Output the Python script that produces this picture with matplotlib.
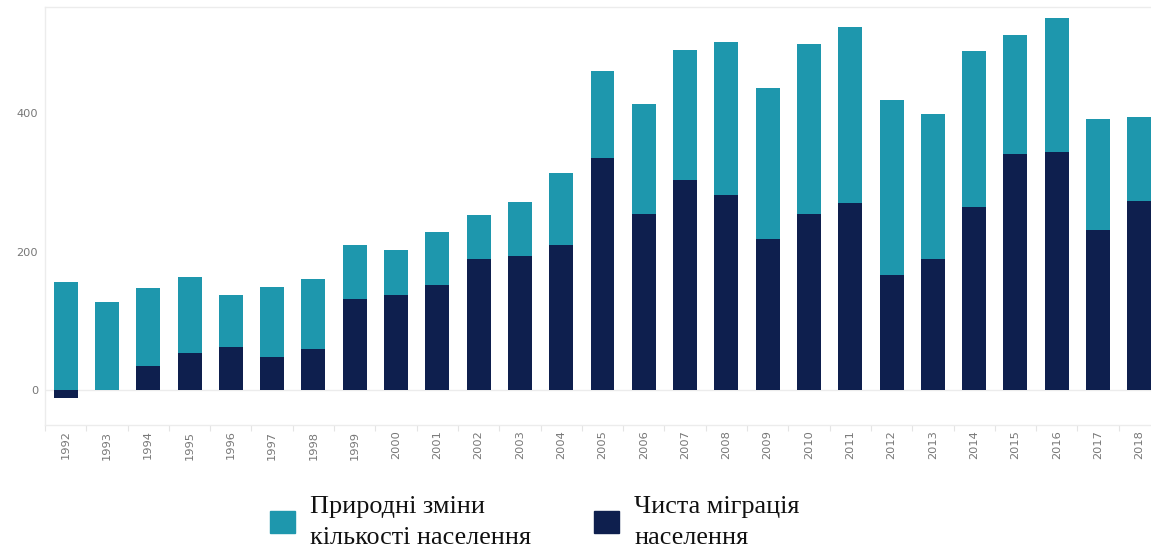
import numpy as np
import matplotlib
matplotlib.use("Agg")
import matplotlib.pyplot as plt
from matplotlib.patches import Patch

years = [str(y) for y in range(1992, 2019)]
# чиста міграція (нижній сегмент)
migration = [-11, 0, 35, 54, 62, 48, 60, 132, 138, 152, 190, 194, 209, 335,
             254, 303, 282, 219, 254, 270, 166, 189, 264, 341, 344, 232, 273]
# природні зміни (верхній сегмент)
natural = [157, 128, 112, 109, 76, 101, 100, 77, 64, 76, 63, 77, 104, 126,
           159, 188, 221, 217, 245, 254, 253, 210, 225, 171, 193, 160, 122]
yticks = [0, 200, 400]

TEAL, NAVY, GRID, TICK = "#1e97ad", "#0e1f4e", "#ececec", "#777777"

fig = plt.figure(figsize=(11.51, 5.57), dpi=100)
ax = fig.add_axes([45 / 1151, 1 - 425 / 557, 1115 / 1151, 418 / 557])

x = np.arange(len(years))
mig = np.array(migration)
bottom = np.clip(mig, 0, None)
ax.bar(x, mig, width=0.58, color=NAVY, zorder=2)
ax.bar(x, natural, bottom=bottom, width=0.58, color=TEAL, zorder=2)
ax.axhline(0, color=GRID, lw=1, zorder=1)

ax.set_xlim(-0.5, len(years) - 0.5)
ax.set_ylim(-50, 553)
ax.set_yticks(yticks)
ax.set_xticks(x)
ax.set_xticklabels(years, rotation=90)
ax.set_xticks(np.arange(-0.5, len(years), 1), minor=True)
ax.tick_params(axis="y", length=0, pad=5, labelsize=8.2, labelcolor=TICK)
ax.tick_params(axis="x", which="major", length=0, pad=4, labelsize=8.2, labelcolor=TICK)
ax.tick_params(axis="x", which="minor", length=4, color="#e4e4e4", width=0.8)
for s in ax.spines.values():
    s.set_color(GRID)
    s.set_linewidth(1)
ax.spines["right"].set_visible(False)

handles = [Patch(color=TEAL), Patch(color=NAVY)]
labels = ["Природні зміни\nкількості населення", "Чиста міграція\nнаселення"]
leg = fig.legend(handles, labels, ncol=2, loc="center left",
                 bbox_to_anchor=(270 / 1151, 1 - 522.5 / 557), frameon=False,
                 prop={"family": "Liberation Serif", "size": 18.8},
                 handlelength=0.96, handleheight=0.96, handletextpad=0.58,
                 columnspacing=2.4, borderpad=0, borderaxespad=0)
for t in leg.get_texts():
    t.set_linespacing(1.55)
    t.set_color("#111111")

fig.savefig("out.png", dpi=100)
